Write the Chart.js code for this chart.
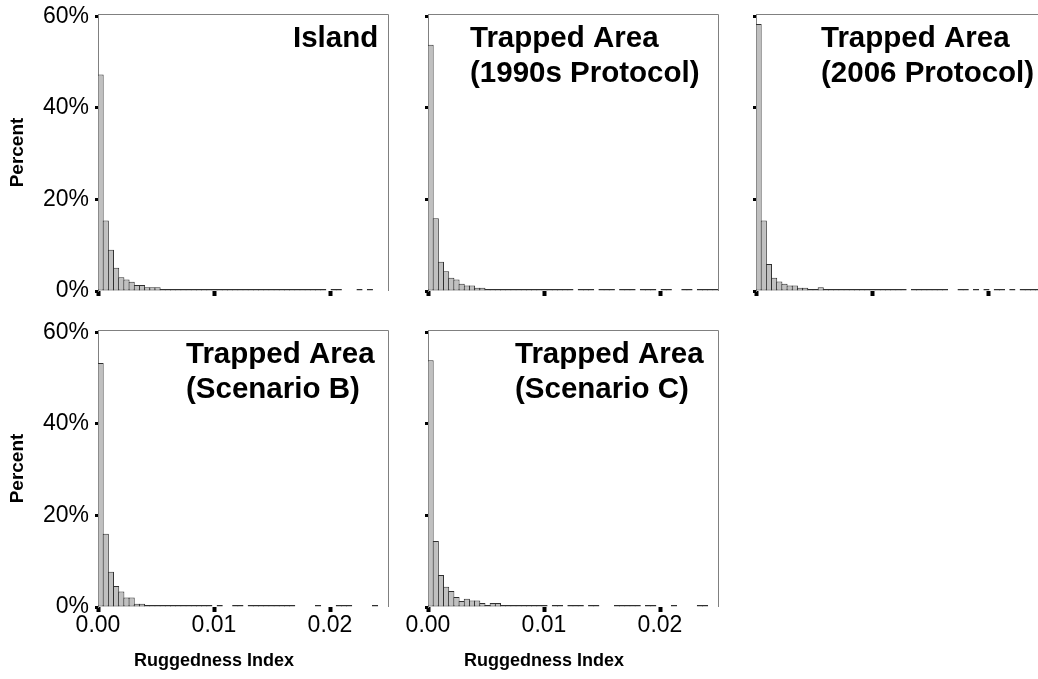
<!DOCTYPE html>
<html>
<head>
<meta charset="utf-8">
<script src="https://cdn.jsdelivr.net/npm/chart.js@4.4.1/dist/chart.umd.min.js"></script>
<style>
  html, body { margin: 0; padding: 0; background: #fff; }
  body { width: 1038px; height: 679px; overflow: hidden; position: relative; }
  canvas { position: absolute; }
</style>
</head>
<body>
<canvas id="c1" width="400" height="300" style="left:0px;top:0px"></canvas>
<canvas id="c2" width="400" height="300" style="left:330px;top:0px"></canvas>
<canvas id="c3" width="400" height="300" style="left:658px;top:0px"></canvas>
<canvas id="c4" width="400" height="363" style="left:0px;top:316px"></canvas>
<canvas id="c5" width="400" height="363" style="left:330px;top:316px"></canvas>
<script>
// ---- data ----
const T = 0.05;                 // trace share (non-empty bin, far below 1%)
const xMin = 0, xMax = 0.025;   // Ruggedness Index range
const binCount = 56;            // histogram bins across the range
const xTickValues = [0, 0.01, 0.02];
const yTickValues = [0, 20, 40, 60];
const xAxisTitle = 'Ruggedness Index';
const yAxisTitle = 'Percent';

const titleIsland   = ['Island'];
const title1990s    = ['Trapped Area', '(1990s Protocol)'];
const title2006     = ['Trapped Area', '(2006 Protocol)'];
const titleScenB    = ['Trapped Area', '(Scenario B)'];
const titleScenC    = ['Trapped Area', '(Scenario C)'];

const islandPct = [47.3, 15.4, 9.0, 5.1, 3.0, 2.5, 2.0, 1.3, 1.3, 0.8, 0.8, 0.8, 0.4, 0.4, 0.4, 0.4, 0.4,
  T, T, T, T, T, T, T, T, T, T, T, T, T, T, T, T, T, T, T, T, T, T, T, T, T, T, T,
  null, T, T, null, null, null, T, null, T, null, null, null];

const protocol1990sPct = [53.8, 15.9, 6.4, 4.3, 2.9, 2.5, 1.6, 1.2, 1.2, 0.7, 0.7, 0.4, 0.4, 0.4, 0.4, 0.4,
  T, T, T, T, T, T, T, T, T, T, T, T,
  null, T, T, T, null, T, T, T, null, T, T, T, null, T, T, T, null, T, T, null, null, T, T, null, T, T, T, T];

const protocol2006Pct = [58.3, 15.4, 5.9, 2.9, 2.1, 1.6, 1.2, 1.2, 0.7, 0.7, 0.4, 0.4, 0.8, 0.15, 0.4,
  T, T, T, T, T, T, T, T, T, 0.3, T, T, T, T,
  null, T, T, T, T, T, T, T, null, null, T, T, null, T, null, T, null, T, T, null, T, null, T, T, T, T, T];

const scenarioBPct = [53.3, 16.0, 7.7, 4.6, 3.4, 2.1, 2.1, 0.7, 0.7, 0.3, 0.3, 0.3, 0.3, 0.3,
  T, T, T, T, T, T, T, T, null, T, null, null, T, T, null,
  T, T, T, T, T, T, T, T, T, null, null, null, null, T, null, null, null, T, T, T, null, null, null, null, T, null, null];

const scenarioCPct = [53.9, 14.4, 7.0, 4.4, 3.5, 2.2, 1.3, 1.8, 1.4, 1.4, 0.9, 0.4, 0.9, 0.9, 0.4,
  T, T, T, T, T, T, T, 0.4, null, T, T, null, T, T, T, null, T, T, null, null, null,
  T, T, T, T, T, null, T, T, null, null, null, T, null, null, null, null, T, T, null, null];

// bin centres (category positions of the histogram)
const binWidth = (xMax - xMin) / binCount;
const binCenters = Array.from({ length: binCount }, (_, i) => xMin + (i + 0.5) * binWidth);

// ---- drawing ----
const FAMILY = '"Liberation Sans", Arial, Helvetica, sans-serif';

const framePlugin = {
  id: 'frame',
  afterDraw(chart) {
    const { ctx, chartArea: a } = chart;
    ctx.save();
    ctx.strokeStyle = '#808080';
    ctx.lineWidth = 1;
    ctx.beginPath();
    ctx.moveTo(a.left, a.top + 0.5);
    ctx.lineTo(Math.round(a.right) + 0.5, a.top + 0.5);
    ctx.lineTo(Math.round(a.right) + 0.5, a.bottom);
    ctx.stroke();
    ctx.restore();
  }
};

const panelTitlePlugin = {
  id: 'panelTitle',
  afterDraw(chart, args, opts) {
    const { ctx, chartArea: a } = chart;
    ctx.save();
    ctx.font = 'bold 29.5px ' + FAMILY;
    ctx.fillStyle = '#000';
    ctx.textAlign = 'left';
    ctx.textBaseline = 'alphabetic';
    opts.lines.forEach((line, i) => {
      ctx.fillText(line, a.left + opts.left, a.top + 32.5 + i * 35);
    });
    if (opts.caption) {
      ctx.font = 'bold 18px ' + FAMILY;
      ctx.textAlign = 'center';
      ctx.textBaseline = 'middle';
      ctx.fillText(opts.caption, (a.left + a.right) / 2 - 29, chart.height - 18);
    }
    ctx.restore();
  }
};

function makePanel(p) {
  const el = document.getElementById(p.id);
  return new Chart(el, {
    type: 'bar',
    data: {
      datasets: [{
        data: binCenters.map((x, i) => ({ x: x, y: p.values[i] })),
        backgroundColor: '#c0c0c0',
        borderColor: '#303030',
        borderWidth: 1,
        borderSkipped: false,
        inflateAmount: 0,
        barPercentage: 1.19,
        categoryPercentage: 1,
        minBarLength: 2,
        grouped: false
      }]
    },
    options: {
      responsive: false,
      animation: false,
      devicePixelRatio: 1,
      events: [],
      layout: { padding: { left: 0, right: p.padRight, top: 14, bottom: 0 } },
      plugins: {
        legend: { display: false },
        tooltip: { enabled: false },
        panelTitle: { lines: p.title, left: p.titleLeft, caption: p.xLabels ? xAxisTitle : null }
      },
      scales: {
        x: {
          type: 'linear',
          min: xMin, max: xMax,
          offset: false,
          afterBuildTicks: s => { s.ticks = xTickValues.map(v => ({ value: v })); },
          afterFit: s => { s.height = p.xAxisHeight; s.paddingLeft = 0; s.paddingRight = 0; },
          grid: { display: true, offset: false, drawOnChartArea: false, drawTicks: true, tickLength: 5, tickWidth: 4, tickColor: '#000', color: '#000' },
          border: { display: false },
          ticks: {
            display: p.xLabels, padding: 0, autoSkip: false, maxRotation: 0,
            color: '#000', font: { family: FAMILY, size: 23 },
            callback: v => Number(v).toFixed(2)
          },
          title: { display: false }
        },
        y: {
          min: 0, max: 60.5,
          afterBuildTicks: s => { s.ticks = yTickValues.map(v => ({ value: v })); },
          afterFit: s => { s.width = 98; s.paddingTop = 0; s.paddingBottom = 0; },
          grid: { display: true, offset: false, drawOnChartArea: false, drawTicks: true, tickLength: 3, tickWidth: 3, tickColor: '#000', color: '#000' },
          border: { display: true, color: '#808080', width: 1 },
          ticks: {
            display: p.yLabels, padding: 6,
            color: '#000', font: { family: FAMILY, size: 23 },
            callback: v => v + '%'
          },
          title: {
            display: p.yLabels, text: yAxisTitle, color: '#000',
            font: { family: FAMILY, size: 19, weight: 'bold' },
            padding: { top: 6, bottom: 0 }
          }
        }
      }
    },
    plugins: [framePlugin, panelTitlePlugin]
  });
}

const panels = [
  { id: 'c1', values: islandPct,        title: titleIsland, titleLeft: 195, yLabels: true,  xLabels: false, xAxisHeight: 9,  padRight: 12 },
  { id: 'c2', values: protocol1990sPct, title: title1990s,  titleLeft: 42,  yLabels: false, xLabels: false, xAxisHeight: 9,  padRight: 12 },
  { id: 'c3', values: protocol2006Pct,  title: title2006,   titleLeft: 65,  yLabels: false, xLabels: false, xAxisHeight: 9,  padRight: 12 },
  { id: 'c4', values: scenarioBPct,     title: titleScenB,  titleLeft: 88,  yLabels: true,  xLabels: true,  xAxisHeight: 72, padRight: 12 },
  { id: 'c5', values: scenarioCPct,     title: titleScenC,  titleLeft: 87,  yLabels: false, xLabels: true,  xAxisHeight: 72, padRight: 12 }
];
panels.forEach(makePanel);
</script>
</body>
</html>
